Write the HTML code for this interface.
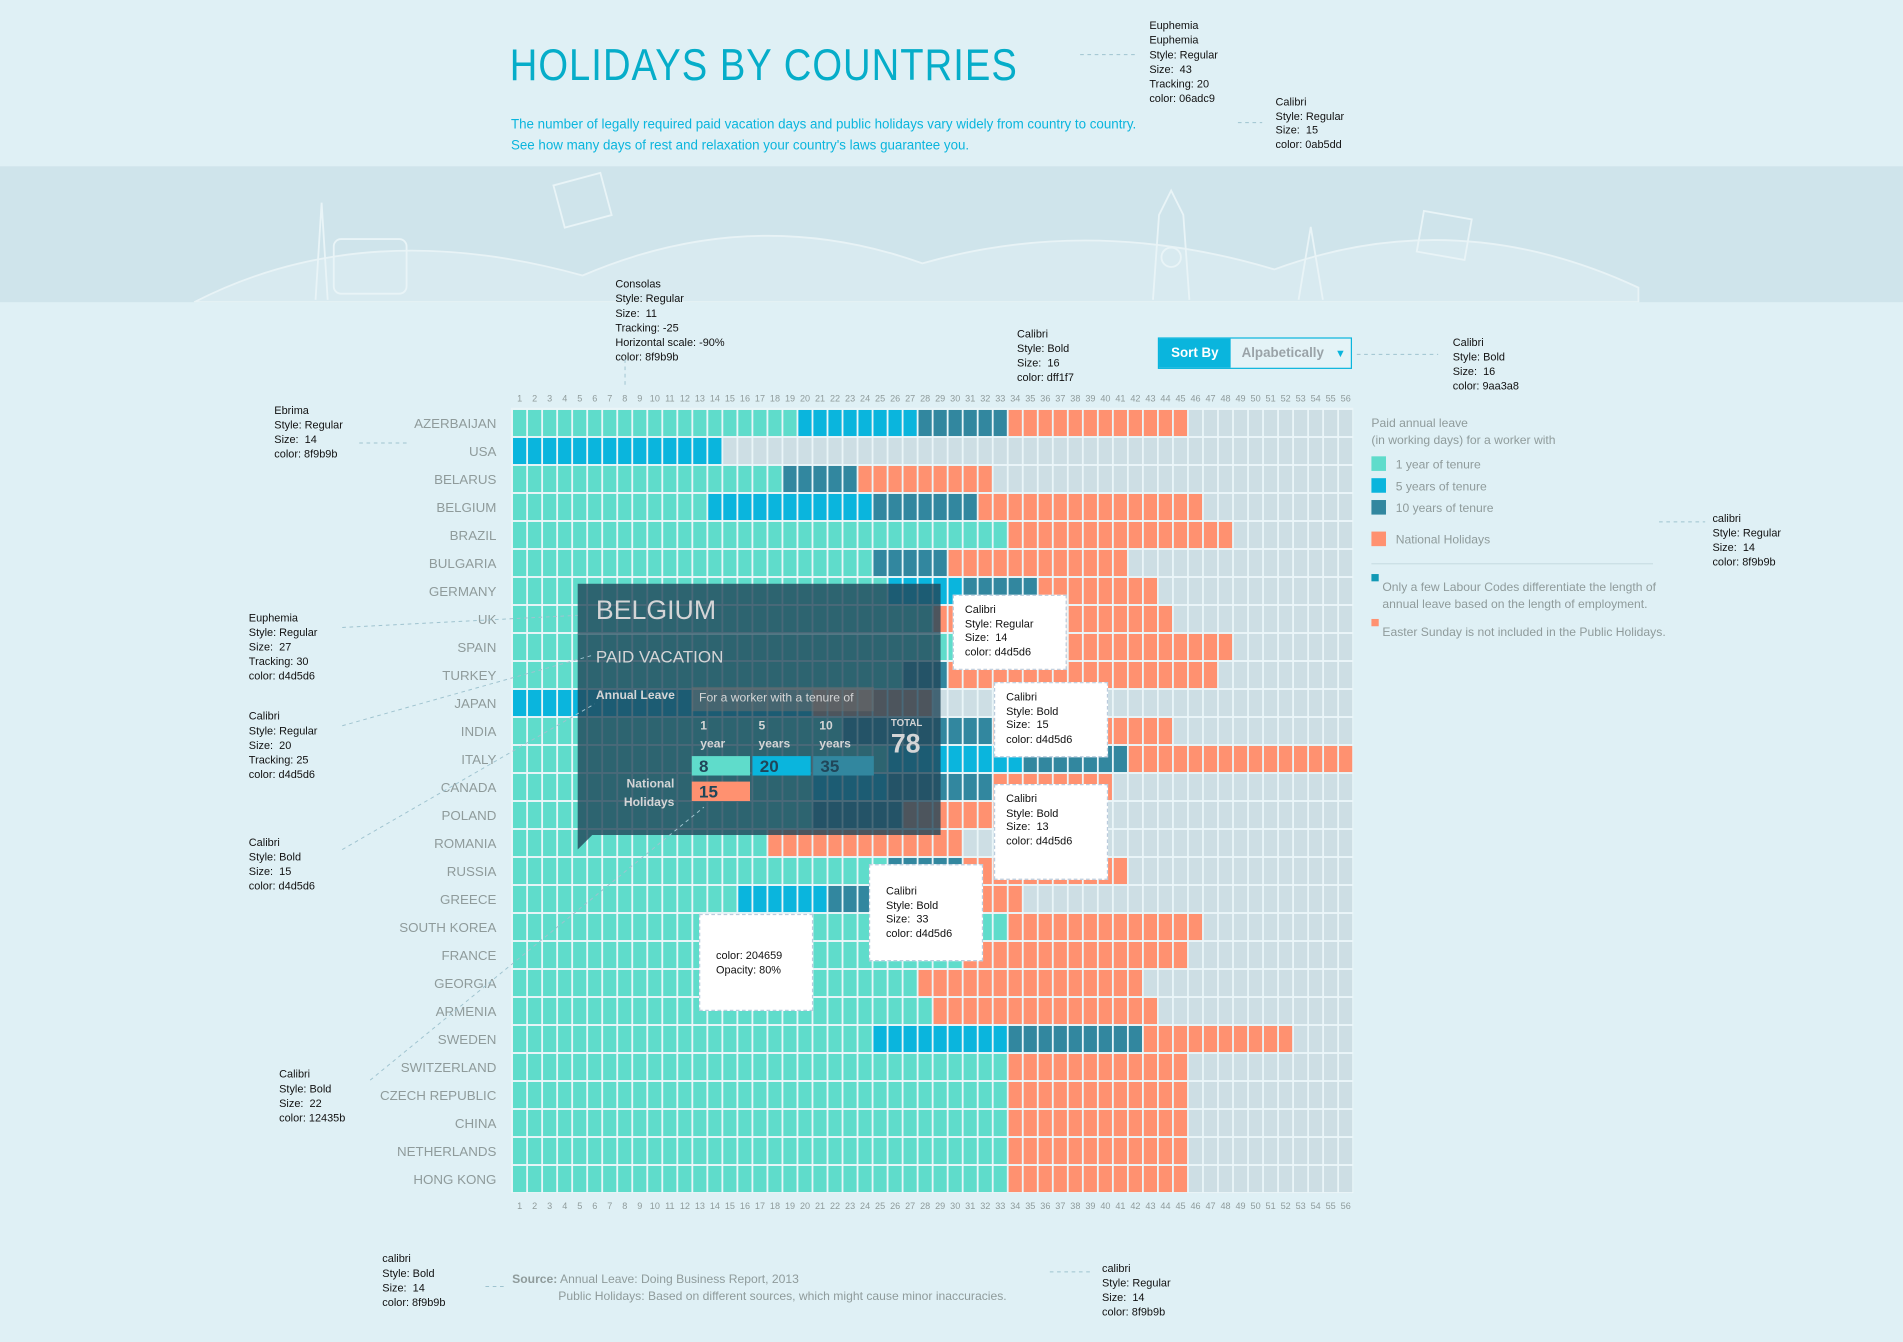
<!DOCTYPE html>
<html><head><meta charset="utf-8">
<style>
html,body{margin:0;padding:0;width:1903px;height:1342px;overflow:hidden;background:#dff0f5;}
#wrap{position:absolute;left:0;top:0;width:1568px;height:1106px;transform:scale(1.21365);transform-origin:0 0;font-family:"Liberation Sans","DejaVu Sans",sans-serif;}
.abs{position:absolute;white-space:nowrap;}
.note{position:absolute;font-size:9px;line-height:11.5px;color:#111;white-space:nowrap;}
.wbox{position:absolute;background:#fff;border:1px dashed #bcd;}
</style></head><body>
<div id="wrap">
<div class="abs" style="left:0;top:137px;width:1568px;height:112px;background:#cfe4eb;"></div>
<svg class="abs" style="left:0;top:137px" width="1568" height="112">
<path d="M160 112 Q300 40 480 90 Q620 30 760 80 Q900 40 1050 85 Q1200 30 1350 100 L1350 112 Z" fill="#d8eaf0" stroke="#e8f3f6" stroke-width="1.5"/>
<g fill="none" stroke="#e9f4f7" stroke-width="1.5"><rect x="460" y="10" width="40" height="36" transform="rotate(-15 480 28)"/><rect x="1170" y="40" width="40" height="34" transform="rotate(10 1190 57)"/><path d="M950 110 L955 40 L965 20 L975 40 L980 110"/><circle cx="965" cy="75" r="8"/><path d="M1070 110 L1080 50 L1090 110"/><path d="M260 110 L265 30 L270 110"/><rect x="275" y="60" width="60" height="45" rx="6"/></g>
</svg>
<div class="abs" style="left:420px;top:33px;font-size:37px;letter-spacing:1px;color:#06adc9;transform:scaleX(0.85);transform-origin:0 0;">HOLIDAYS BY COUNTRIES</div>
<div class="abs" style="left:421px;top:95px;font-size:11px;line-height:17px;color:#0ab5dd;">The number of legally required paid vacation days and public holidays vary widely from country to country.<br>See how many days of rest and relaxation your country's laws guarantee you.</div>

<div class="abs" style="left:954px;top:278px;width:160px;height:26px;border:1px solid #0ab5dd;box-sizing:border-box;background:#e4f3f7;">
<div class="abs" style="left:0;top:0;width:59px;height:24px;background:#0ab5dd;color:#fff;font-weight:bold;font-size:11px;line-height:24px;text-align:center;">Sort By</div>
<div class="abs" style="left:68px;top:0;height:24px;color:#9aa3a8;font-weight:bold;font-size:11px;line-height:24px;">Alpabetically</div>
<div class="abs" style="left:145px;top:0;line-height:24px;color:#0ab5dd;font-size:9px;">▼</div>
</div>

<svg class="abs" id="chart" style="left:0;top:0" width="1568" height="1106"></svg>

<div class="abs" style="left:1130px;top:343px;font-size:10px;color:#8f9b9b;line-height:14px;">
<div>Paid annual leave<br>(in working days) for a worker with</div>
<div class="abs" style="left:0;top:33px"><span style="display:inline-block;width:12px;height:12px;background:#5fdccb;vertical-align:-2px;margin-right:8px"></span>1 year of tenure</div>
<div class="abs" style="left:0;top:51px"><span style="display:inline-block;width:12px;height:12px;background:#0ab5dd;vertical-align:-2px;margin-right:8px"></span>5 years of tenure</div>
<div class="abs" style="left:0;top:69px"><span style="display:inline-block;width:12px;height:12px;background:#32879f;vertical-align:-2px;margin-right:8px"></span>10 years of tenure</div>
<div class="abs" style="left:0;top:95px"><span style="display:inline-block;width:12px;height:12px;background:#ff9170;vertical-align:-2px;margin-right:8px"></span>National Holidays</div>
<div class="abs" style="left:0;top:121px;width:232px;height:1px;background:#c9dde3"></div>
<div class="abs" style="left:0;top:130px;"><span style="position:absolute;left:0;top:0;width:6px;height:6px;background:#1199b5"></span><div style="padding-left:9px;padding-top:5px">Only a few Labour Codes differentiate the length of<br>annual leave based on the length of employment.</div></div>
<div class="abs" style="left:0;top:167px;"><span style="position:absolute;left:0;top:0;width:6px;height:6px;background:#ff9170"></span><div style="padding-left:9px;padding-top:5px">Easter Sunday is not included in the Public Holidays.</div></div>
</div>

<div class="abs" style="left:476px;top:481px;width:299px;height:207px;background:rgba(32,70,89,0.8);">
<div class="abs" style="left:15px;top:9px;font-size:22px;color:#d4d5d6;">BELGIUM</div>
<div class="abs" style="left:0;top:41px;width:299px;height:1px;background:#5e7f8c"></div>
<div class="abs" style="left:15px;top:52px;font-size:14px;color:#d4d5d6;">PAID VACATION</div>
<div class="abs" style="left:15px;top:87px;font-size:10px;font-weight:bold;color:#d4d5d6;">Annual Leave</div>
<div class="abs" style="left:94px;top:85px;width:150px;height:20px;background:rgba(110,110,110,0.5);font-size:10px;line-height:20px;color:#d4d5d6;padding-left:6px;box-sizing:border-box">For a worker with a tenure of</div>
<div class="abs" style="left:101px;top:110px;font-size:10px;font-weight:bold;line-height:15px;color:#d4d5d6;">1<br>year</div>
<div class="abs" style="left:149px;top:110px;font-size:10px;font-weight:bold;line-height:15px;color:#d4d5d6;">5<br>years</div>
<div class="abs" style="left:199px;top:110px;font-size:10px;font-weight:bold;line-height:15px;color:#d4d5d6;">10<br>years</div>
<div class="abs" style="left:258px;top:110px;font-size:8px;font-weight:bold;color:#d4d5d6;">TOTAL</div>
<div class="abs" style="left:258px;top:119px;font-size:22px;font-weight:bold;color:#d4d5d6;">78</div>
<div class="abs" style="left:94px;top:142px;width:48px;height:16px;background:#5fdccb;color:#204659;font-size:14px;font-weight:bold;line-height:16px;padding-left:6px;box-sizing:border-box">8</div>
<div class="abs" style="left:144px;top:142px;width:48px;height:16px;background:#0ab5dd;color:#204659;font-size:14px;font-weight:bold;line-height:16px;padding-left:6px;box-sizing:border-box">20</div>
<div class="abs" style="left:194px;top:142px;width:50px;height:16px;background:#32879f;color:#204659;font-size:14px;font-weight:bold;line-height:16px;padding-left:6px;box-sizing:border-box">35</div>
<div class="abs" style="left:38px;top:158px;font-size:10px;font-weight:bold;line-height:15px;color:#d4d5d6;text-align:right">National<br>Holidays</div>
<div class="abs" style="left:94px;top:163px;width:48px;height:16px;background:#ff9170;color:#204659;font-size:14px;font-weight:bold;line-height:16px;padding-left:6px;box-sizing:border-box">15</div>
<div class="abs" style="left:0;top:207px;width:0;height:0;border-top:12px solid rgba(32,70,89,0.8);border-right:12px solid transparent;"></div>
</div>

<div class="wbox" style="left:785px;top:490px;width:92px;height:60px;"><div class="note" style="left:9px;top:6px">Calibri<br>Style: Regular<br>Size:&nbsp; 14<br>color: d4d5d6</div></div>
<div class="wbox" style="left:819px;top:562px;width:92px;height:60px;"><div class="note" style="left:9px;top:6px">Calibri<br>Style: Bold<br>Size:&nbsp; 15<br>color: d4d5d6</div></div>
<div class="wbox" style="left:819px;top:646px;width:92px;height:77px;"><div class="note" style="left:9px;top:6px">Calibri<br>Style: Bold<br>Size:&nbsp; 13<br>color: d4d5d6</div></div>
<div class="wbox" style="left:716px;top:712px;width:92px;height:78px;"><div class="note" style="left:13px;top:16px">Calibri<br>Style: Bold<br>Size:&nbsp; 33<br>color: d4d5d6</div></div>
<div class="wbox" style="left:576px;top:753px;width:92px;height:78px;"><div class="note" style="left:13px;top:28px">color: 204659<br>Opacity: 80%</div></div>

<div class="note" style="left:947px;top:15px;line-height:12px">Euphemia<br>Euphemia<br>Style: Regular<br>Size:&nbsp; 43<br>Tracking: 20<br>color: 06adc9</div>
<div class="note" style="left:1051px;top:79px">Calibri<br>Style: Regular<br>Size:&nbsp; 15<br>color: 0ab5dd</div>
<div class="note" style="left:507px;top:228px;line-height:12px">Consolas<br>Style: Regular<br>Size:&nbsp; 11<br>Tracking: -25<br>Horizontal scale: -90%<br>color: 8f9b9b</div>
<div class="note" style="left:838px;top:269px;line-height:12px">Calibri<br>Style: Bold<br>Size:&nbsp; 16<br>color: dff1f7</div>
<div class="note" style="left:1197px;top:276px;line-height:12px">Calibri<br>Style: Bold<br>Size:&nbsp; 16<br>color: 9aa3a8</div>
<div class="note" style="left:226px;top:332px;line-height:12px">Ebrima<br>Style: Regular<br>Size:&nbsp; 14<br>color: 8f9b9b</div>
<div class="note" style="left:1411px;top:421px;line-height:12px">calibri<br>Style: Regular<br>Size:&nbsp; 14<br>color: 8f9b9b</div>
<div class="note" style="left:205px;top:503px;line-height:12px">Euphemia<br>Style: Regular<br>Size:&nbsp; 27<br>Tracking: 30<br>color: d4d5d6</div>
<div class="note" style="left:205px;top:584px;line-height:12px">Calibri<br>Style: Regular<br>Size:&nbsp; 20<br>Tracking: 25<br>color: d4d5d6</div>
<div class="note" style="left:205px;top:688px;line-height:12px">Calibri<br>Style: Bold<br>Size:&nbsp; 15<br>color: d4d5d6</div>
<div class="note" style="left:230px;top:879px;line-height:12px">Calibri<br>Style: Bold<br>Size:&nbsp; 22<br>color: 12435b</div>
<div class="note" style="left:315px;top:1031px;line-height:12px">calibri<br>Style: Bold<br>Size:&nbsp; 14<br>color: 8f9b9b</div>
<div class="note" style="left:908px;top:1039px;line-height:12px">calibri<br>Style: Regular<br>Size:&nbsp; 14<br>color: 8f9b9b</div>

<div class="abs" style="left:422px;top:1048px;font-size:10px;line-height:14px;color:#8f9b9b;"><b>Source:</b> Annual Leave: Doing Business Report, 2013<br><span style="padding-left:38px">Public Holidays: Based on different sources, which might cause minor inaccuracies.</span></div>

<svg class="abs" style="left:0;top:0;pointer-events:none" width="1568" height="1106">
<g stroke="#9fc3cf" stroke-dasharray="3,3" fill="none" stroke-width="0.8">
<line x1="890" y1="45" x2="935" y2="45"/><line x1="1020" y1="101" x2="1040" y2="101"/><line x1="515" y1="296" x2="515" y2="318"/>
<line x1="1118" y1="292" x2="1185" y2="292"/><line x1="296" y1="365" x2="335" y2="365"/><line x1="1367" y1="430" x2="1405" y2="430"/>
<line x1="282" y1="517" x2="476" y2="507"/><line x1="282" y1="598" x2="488" y2="540"/><line x1="282" y1="700" x2="490" y2="580"/>
<line x1="305" y1="890" x2="580" y2="665"/><line x1="400" y1="1060" x2="418" y2="1060"/><line x1="865" y1="1048" x2="900" y2="1048"/>
</g></svg>
</div>

<script>
const countries = ["AZERBAIJAN","USA","BELARUS","BELGIUM","BRAZIL","BULGARIA","GERMANY","UK","SPAIN","TURKEY","JAPAN","INDIA","ITALY","CANADA","POLAND","ROMANIA","RUSSIA","GREECE","SOUTH KOREA","FRANCE","GEORGIA","ARMENIA","SWEDEN","SWITZERLAND","CZECH REPUBLIC","CHINA","NETHERLANDS","HONG KONG"];
const leave1 = [19,0,18,13,33,24,25,28,30,26,0,22,25,20,20,17,25,15,33,30,27,28,24,33,33,33,33,33];
const leave5 = [8,14,0,11,0,0,5,0,0,0,20,0,9,5,0,0,0,6,0,0,0,0,9,0,0,0,0,0];
const leave10 = [6,0,5,7,0,5,5,0,0,3,0,10,7,7,6,0,5,3,0,0,0,0,9,0,0,0,0,0];
const holidays = [12,0,9,15,15,12,8,16,18,18,8,12,15,8,13,13,11,10,13,15,15,15,10,12,12,12,12,12];
const dayTicks = Array.from({length:56},(_,i)=>String(i+1));

const NS="http://www.w3.org/2000/svg";
const svg=document.getElementById('chart');
const X0=422, X1=1115, Y0=337, Y1=983;
const colW=(X1-X0)/dayTicks.length, rowH=(Y1-Y0)/countries.length;
const xPos=d=>X0+d*colW;
const yPos=r=>Y0+r*rowH;
function mk(tag,attrs){const e=document.createElementNS(NS,tag);for(const k in attrs)e.setAttribute(k,attrs[k]);svg.appendChild(e);return e;}
const bg=mk('rect',{x:X0-1,y:Y0-1,width:X1-X0+1,height:Y1-Y0+1,fill:'#eaf5f8'});


const COLORS=['#5fdccb','#0ab5dd','#32879f','#ff9170'];
const SEG=['leave-1-year','leave-5-years','leave-10-years','national-holiday'];
countries.forEach((c,r)=>{
  const segs=[leave1[r],leave5[r],leave10[r],holidays[r]];
  const kinds=[];
  segs.forEach((n,s)=>{for(let i=0;i<n;i++)kinds.push(s);});
  for(let i=0;i<dayTicks.length;i++){
    const k=i<kinds.length?kinds[i]:-1;
    const rect=mk('rect',{x:xPos(i)+0.7,y:yPos(r)+0.8,width:colW-1.5,height:rowH-1.6,fill:k<0?'#cddee4':COLORS[k]});
    
    
  }
  const t=mk('text',{x:409,y:yPos(r)+rowH/2+4,'text-anchor':'end','font-size':11,fill:'#8f9b9b','font-family':'Liberation Sans, sans-serif',textLength:0});
  t.removeAttribute('textLength');
  t.textContent=c;
  
  
});
dayTicks.forEach((lab,i)=>{
  [Y0-6,Y1+13].forEach((yy,j)=>{
    const t=mk('text',{x:xPos(i)+colW/2,y:yy,'text-anchor':'middle','font-size':7.5,fill:'#8f9b9b','font-family':'Liberation Sans Narrow, Liberation Sans, sans-serif'});
    t.textContent=lab;
    
    
  });
});
</script>
</body></html>
